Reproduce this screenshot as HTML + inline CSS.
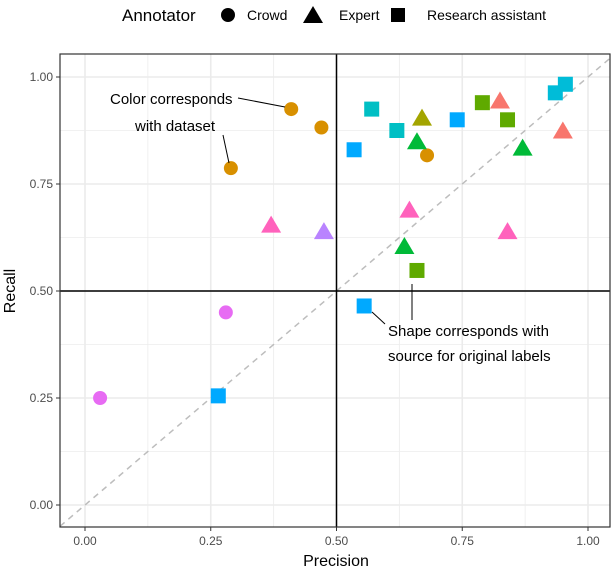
<!DOCTYPE html>
<html><head><meta charset="utf-8"><style>
body{margin:0;background:#fff;font-family:"Liberation Sans",sans-serif}
svg text{font-family:"Liberation Sans",sans-serif}
</style></head><body>
<svg id="chart" width="614" height="570">
<g>
<text x="122" y="21" font-size="17" fill="#000">Annotator</text>
<circle cx="228" cy="15" r="7" fill="#000"/>
<text x="247" y="20" font-size="14">Crowd</text>
<polygon points="303,23 313,6 323,23" fill="#000"/>
<text x="339" y="20" font-size="14">Expert</text>
<rect x="391" y="8" width="14" height="14" fill="#000"/>
<text x="427" y="20" font-size="14">Research assistant</text>
</g>
<g id="grid"></g>
<g id="marks"></g>
<rect x="60" y="54" width="550" height="473" fill="none" stroke="#333" stroke-width="1.2"/>
<g>
<text x="110" y="104" font-size="15">Color corresponds</text>
<text x="135" y="131" font-size="15">with dataset</text>
<line x1="238" y1="98" x2="285" y2="107" stroke="#000"/>
<line x1="223" y1="135" x2="229" y2="163" stroke="#000"/>
<text x="388" y="336" font-size="15">Shape corresponds with</text>
<text x="388" y="361" font-size="15">source for original labels</text>
<line x1="372" y1="312" x2="385" y2="324" stroke="#000"/>
<line x1="412" y1="284" x2="412" y2="320" stroke="#000"/>
</g>
<text x="336" y="566" font-size="16" text-anchor="middle">Precision</text>
<text transform="translate(15,291) rotate(-90)" font-size="16" text-anchor="middle">Recall</text>
</svg>
<script>
const crowdP=[0.41,0.47,0.29,0.68,0.28,0.03];
const crowdR=[0.925,0.882,0.787,0.817,0.45,0.25];
const crowdC=["#D89000","#D89000","#D89000","#D89000","#E76BF3","#E76BF3"];
const expertP=[0.825,0.95,0.67,0.66,0.87,0.37,0.475,0.645,0.635,0.84];
const expertR=[0.945,0.875,0.905,0.85,0.835,0.655,0.64,0.69,0.605,0.64];
const expertC=["#F8766D","#F8766D","#A3A500","#00BA38","#00BA38","#FF62BC","#B983FF","#FF62BC","#00BA38","#FF62BC"];
const raP=[0.57,0.62,0.535,0.74,0.79,0.84,0.935,0.955,0.66,0.555,0.265];
const raR=[0.925,0.875,0.83,0.9,0.94,0.9,0.963,0.983,0.548,0.465,0.255];
const raC=["#00BFC4","#00BFC4","#00A9FF","#00A9FF","#5FAA00","#5FAA00","#00BCD8","#00BCD8","#5FAA00","#00A9FF","#00A9FF"];
const ticks=[0,0.25,0.5,0.75,1];
const tickLabels=["0.00","0.25","0.50","0.75","1.00"];
const NS="http://www.w3.org/2000/svg";
const X0=60,X1=610,Y0=54,Y1=527;
function sx(v){return 85+503*v;}
function sy(v){return 505-428*v;}
function mk(t,a,parent){const e=document.createElementNS(NS,t);for(const k in a)e.setAttribute(k,a[k]);parent.appendChild(e);return e;}
const grid=document.getElementById('grid'),marks=document.getElementById('marks'),svg=document.getElementById('chart');
for(let i=0;i<ticks.length;i++){
  const t=ticks[i];
  if(i<ticks.length-1){const m=t+0.125;
    mk('line',{x1:sx(m),x2:sx(m),y1:Y0,y2:Y1,stroke:'#ececec','stroke-width':0.8},grid);
    mk('line',{x1:X0,x2:X1,y1:sy(m),y2:sy(m),stroke:'#ececec','stroke-width':0.8},grid);}
  const gv=mk('line',{x1:sx(t),x2:sx(t),y1:Y0,y2:Y1,stroke:'#ebebeb','stroke-width':1.6},grid);
  
  
  const gh=mk('line',{x1:X0,x2:X1,y1:sy(t),y2:sy(t),stroke:'#ebebeb','stroke-width':1.6},grid);
  
  
  mk('line',{x1:sx(t),x2:sx(t),y1:Y1,y2:Y1+4,stroke:'#333'},svg);
  mk('line',{x1:X0-4,x2:X0,y1:sy(t),y2:sy(t),stroke:'#333'},svg);
  const xl=mk('text',{x:sx(t),y:Y1+18,'font-size':12,fill:'#4d4d4d','text-anchor':'middle'},svg);xl.textContent=tickLabels[i];
  
  
  const yl=mk('text',{x:X0-7,y:sy(t)+4,'font-size':12,fill:'#4d4d4d','text-anchor':'end'},svg);yl.textContent=tickLabels[i];
  
  
}
const d0=(X0-85)/503,d1=Math.min((X1-85)/503,(505-Y0)/428);
mk('line',{x1:X0,y1:sy(d0),x2:sx(d1),y2:sy(d1),stroke:'#bdbdbd','stroke-width':1.5,'stroke-dasharray':'6,5'},grid);
mk('line',{x1:sx(0.5),x2:sx(0.5),y1:Y0,y2:Y1,stroke:'#000','stroke-width':1.5},grid);
mk('line',{x1:X0,x2:X1,y1:sy(0.5),y2:sy(0.5),stroke:'#000','stroke-width':1.5},grid);
for(let i=0;i<crowdP.length;i++){
  const c=mk('circle',{cx:sx(crowdP[i]),cy:sy(crowdR[i]),r:7,fill:crowdC[i]},marks);
  
  
}
for(let i=0;i<expertP.length;i++){
  const x=sx(expertP[i]),y=sy(expertR[i]);
  const p=mk('polygon',{points:`${x-10},${y+8} ${x},${y-9} ${x+10},${y+8}`,fill:expertC[i]},marks);
  
  
}
for(let i=0;i<raP.length;i++){
  const x=sx(raP[i]),y=sy(raR[i]);
  const r=mk('rect',{x:x-7.5,y:y-7.5,width:15,height:15,fill:raC[i]},marks);
  
  
}
</script>
</body></html>
